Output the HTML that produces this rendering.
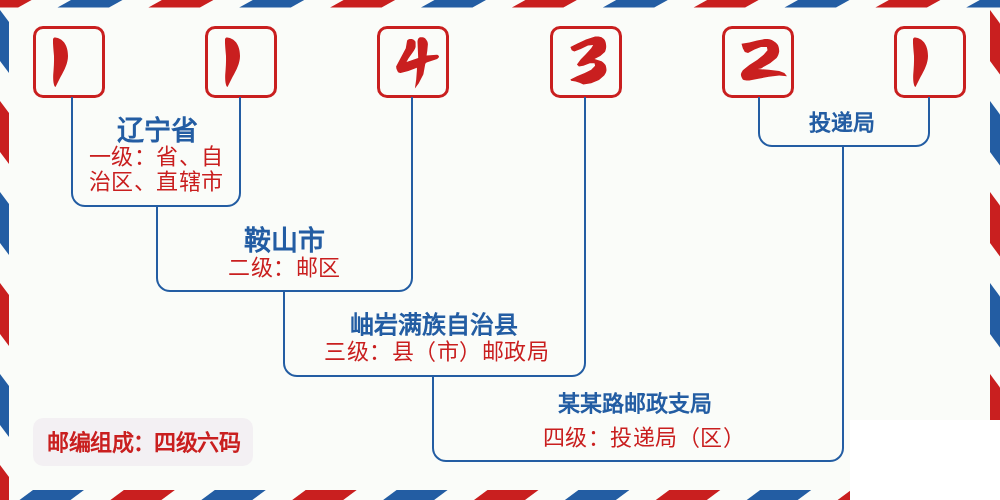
<!DOCTYPE html>
<html lang="zh-CN"><head><meta charset="utf-8"><style>
html,body{margin:0;padding:0;}
body{width:1000px;height:500px;position:relative;overflow:hidden;background:#fafcf9;font-family:"Liberation Sans",sans-serif;}
svg{position:absolute;left:0;top:0;}
.t{position:absolute;text-align:center;white-space:nowrap;will-change:transform;}
.ti{color:#235da3;font-family:"Liberation Serif",serif;font-weight:bold;}
.rd{color:#c91f1f;font-family:"Liberation Sans",sans-serif;letter-spacing:0.5px;}
</style></head><body>
<svg width="1000" height="500" viewBox="0 0 1000 500">
<polygon fill="#235da3" points="-124.2,7.6 -72.8,7.6 -59.2,0.0 -110.8,0.0"/>
<polygon fill="#c91f1f" points="-33.4,7.6 18.1,7.6 31.6,0.0 -19.9,0.0"/>
<polygon fill="#235da3" points="57.5,7.6 109.0,7.6 122.5,0.0 71.0,0.0"/>
<polygon fill="#c91f1f" points="148.4,7.6 199.9,7.6 213.4,0.0 161.9,0.0"/>
<polygon fill="#235da3" points="239.2,7.6 290.8,7.6 304.2,0.0 252.8,0.0"/>
<polygon fill="#c91f1f" points="330.1,7.6 381.6,7.6 395.1,0.0 343.6,0.0"/>
<polygon fill="#235da3" points="421.0,7.6 472.5,7.6 486.0,0.0 434.5,0.0"/>
<polygon fill="#c91f1f" points="511.9,7.6 563.4,7.6 576.9,0.0 525.4,0.0"/>
<polygon fill="#235da3" points="602.8,7.6 654.2,7.6 667.8,0.0 616.2,0.0"/>
<polygon fill="#c91f1f" points="693.6,7.6 745.1,7.6 758.6,0.0 707.1,0.0"/>
<polygon fill="#235da3" points="784.5,7.6 836.0,7.6 849.5,0.0 798.0,0.0"/>
<polygon fill="#c91f1f" points="875.4,7.6 926.9,7.6 940.4,0.0 888.9,0.0"/>
<polygon fill="#235da3" points="966.2,7.6 1017.8,7.6 1031.2,0.0 979.8,0.0"/>
<polygon fill="#c91f1f" points="0.0,-81.0 9.0,-69.0 9.0,-18.0 0.0,-30.0"/>
<polygon fill="#235da3" points="0.0,10.0 9.0,22.0 9.0,73.0 0.0,61.0"/>
<polygon fill="#c91f1f" points="0.0,101.0 9.0,113.0 9.0,164.0 0.0,152.0"/>
<polygon fill="#235da3" points="0.0,192.0 9.0,204.0 9.0,255.0 0.0,243.0"/>
<polygon fill="#c91f1f" points="0.0,283.0 9.0,295.0 9.0,346.0 0.0,334.0"/>
<polygon fill="#235da3" points="0.0,374.0 9.0,386.0 9.0,437.0 0.0,425.0"/>
<polygon fill="#c91f1f" points="0.0,465.0 9.0,477.0 9.0,528.0 0.0,516.0"/>
<polygon fill="#235da3" points="0.0,556.0 9.0,568.0 9.0,619.0 0.0,607.0"/>
<polygon fill="#235da3" points="990.0,-81.0 1000.0,-67.5 1000.0,-16.5 990.0,-30.0"/>
<polygon fill="#c91f1f" points="990.0,10.0 1000.0,23.5 1000.0,74.5 990.0,61.0"/>
<polygon fill="#235da3" points="990.0,101.0 1000.0,114.5 1000.0,165.5 990.0,152.0"/>
<polygon fill="#c91f1f" points="990.0,192.0 1000.0,205.5 1000.0,256.5 990.0,243.0"/>
<polygon fill="#235da3" points="990.0,283.0 1000.0,296.5 1000.0,347.5 990.0,334.0"/>
<polygon fill="#c91f1f" points="990.0,374.0 1000.0,387.5 1000.0,438.5 990.0,425.0"/>
<polygon fill="#235da3" points="990.0,465.0 1000.0,478.5 1000.0,529.5 990.0,516.0"/>
<polygon fill="#c91f1f" points="990.0,556.0 1000.0,569.5 1000.0,620.5 990.0,607.0"/>
<polygon fill="#c91f1f" points="-57.9,490.0 -6.9,490.0 -23.9,502.6 -74.9,502.6"/>
<polygon fill="#235da3" points="33.0,490.0 84.0,490.0 67.0,502.6 16.0,502.6"/>
<polygon fill="#c91f1f" points="123.9,490.0 174.9,490.0 157.9,502.6 106.9,502.6"/>
<polygon fill="#235da3" points="214.8,490.0 265.8,490.0 248.8,502.6 197.8,502.6"/>
<polygon fill="#c91f1f" points="305.7,490.0 356.7,490.0 339.7,502.6 288.7,502.6"/>
<polygon fill="#235da3" points="396.6,490.0 447.6,490.0 430.6,502.6 379.6,502.6"/>
<polygon fill="#c91f1f" points="487.5,490.0 538.5,490.0 521.5,502.6 470.5,502.6"/>
<polygon fill="#235da3" points="578.4,490.0 629.4,490.0 612.4,502.6 561.4,502.6"/>
<polygon fill="#c91f1f" points="669.3,490.0 720.3,490.0 703.3,502.6 652.3,502.6"/>
<polygon fill="#235da3" points="760.2,490.0 811.2,490.0 794.2,502.6 743.2,502.6"/>
<polygon fill="#c91f1f" points="851.1,490.0 902.1,490.0 885.1,502.6 834.1,502.6"/>
<polygon fill="#235da3" points="942.0,490.0 993.0,490.0 976.0,502.6 925.0,502.6"/>
<polygon fill="#c91f1f" points="1032.9,490.0 1083.9,490.0 1066.9,502.6 1015.9,502.6"/>
<rect x="850" y="420" width="150" height="80" fill="#ffffff"/>
<rect x="34.5" y="27.5" width="69" height="69" rx="8.5" ry="8.5" fill="none" stroke="#c91f1f" stroke-width="3"/>
<rect x="206.5" y="27.5" width="69" height="69" rx="8.5" ry="8.5" fill="none" stroke="#c91f1f" stroke-width="3"/>
<rect x="378.5" y="27.5" width="69" height="69" rx="8.5" ry="8.5" fill="none" stroke="#c91f1f" stroke-width="3"/>
<rect x="551.5" y="27.5" width="69" height="69" rx="8.5" ry="8.5" fill="none" stroke="#c91f1f" stroke-width="3"/>
<rect x="723.5" y="27.5" width="69" height="69" rx="8.5" ry="8.5" fill="none" stroke="#c91f1f" stroke-width="3"/>
<rect x="895.5" y="27.5" width="69" height="69" rx="8.5" ry="8.5" fill="none" stroke="#c91f1f" stroke-width="3"/>
<path fill="#c91f1f" d="M53,39.5 C53,36.5 57,37 61,39.5 C66,43 68,49 68,56 C68,63 64.5,70 60.5,77 L55.5,87 C53.5,86 53,80 53.2,75 C53.8,68 54.2,62 54,56 C53.5,50 52.8,44 53,39.5 Z"/>
<path fill="#c91f1f" d="M53,39.5 C53,36.5 57,37 61,39.5 C66,43 68,49 68,56 C68,63 64.5,70 60.5,77 L55.5,87 C53.5,86 53,80 53.2,75 C53.8,68 54.2,62 54,56 C53.5,50 52.8,44 53,39.5 Z" transform="translate(172,0)"/>
<path fill="#c91f1f" d="M53,39.5 C53,36.5 57,37 61,39.5 C66,43 68,49 68,56 C68,63 64.5,70 60.5,77 L55.5,87 C53.5,86 53,80 53.2,75 C53.8,68 54.2,62 54,56 C53.5,50 52.8,44 53,39.5 Z" transform="translate(860,0)"/>
<path fill="#c91f1f" d="M407.1,40.4 C408.5,39 410.5,38.8 411.7,39.1 C414,39.8 415.6,41 415.6,42.4 L415.6,46.9 C415,49 414,50.5 413,52.1 L408.4,58.6 L406.5,61.9 L418.2,58 L417.5,41.7 C417.5,39.5 418.5,37.6 420.1,37.2 C422.5,37 424.5,37.5 425.3,38.5 C427,40.5 427.9,42 427.9,44.3 L427.3,50.8 L426.6,55.4 L437,54.7 C438,55 439,55.8 439,56.7 C438.5,58 437.5,58.8 436.4,59.3 L426.6,62.5 L425.3,63.8 L423.4,74.2 L418.8,83.3 L414.9,88.5 L416.2,79.4 L416.9,70.3 L416.9,67.7 L408.4,71 L400.6,72.9 C399,73 397.8,72.2 397.4,71 C396.5,69.5 396.1,68 396.1,66.4 L400.6,58 L405.8,48.2 Z"/>
<path fill="#c91f1f" d="M570.4,46.9 L576.9,43.7 L586,39.4 L595.1,36.5 C598,36.3 600,36.5 601.6,37.2 C603.5,38.5 604.7,39.5 605.2,41.1 C606,43 606.2,45 606.2,46.9 C606,49 605.6,50.5 604.9,52.1 L600.3,56 L594.5,58.9 L601.6,61.2 C603.5,62.5 604.8,63.7 605.5,65.1 C606.2,67 606.5,68.5 606.5,70.3 C606.2,72.5 605.4,74 604.2,75.5 L599,80.1 L591.2,83.3 L583.4,84.6 L579.5,82.7 L575.6,81.4 L571.1,80.7 L570.4,79.4 L576.9,76.2 L584.7,72.9 L591.2,69.7 L595.1,65.8 L594.5,63.2 L589.9,63.2 L583.4,65.8 L578.9,66.4 L576.9,64.5 L580.8,59.3 L586,54.1 L591.2,48.2 L593.2,45 L588,45.6 L580.8,48.9 L574.3,51.5 L571.7,50.2 Z"/>
<path fill="#c91f1f" d="M741.5,43.7 L749.3,42.4 L757.1,40.4 L764.9,39.1 C768,39 770.5,39.5 772.7,40.4 C775.5,42 777,43.5 777.9,45 C778.8,47 779.2,49 779.2,51.5 C778.8,54 778,56 776.6,58 L770.1,63.2 L761,68.4 L757.8,69 L768.8,69.7 L779.2,71 L784.4,72.9 L787,76.2 L779.2,75.5 L768.8,76.8 L758.4,78.8 L749.3,80.4 C746.5,80.5 744,80.2 742.8,79.4 C741.5,77.5 740.9,76 740.9,74.2 C741.5,72.5 742,71.5 742.8,70.3 L749.3,65.1 L757.1,59.9 L763.6,54.7 L767.5,50.2 L766.9,46.9 L761,46.9 L754.5,49.5 L748,53.1 L744.8,52.1 L742.8,48.2 Z"/>
<path fill="none" stroke="#235da3" stroke-width="2" d="M72.0,97.0 L72.0,193.0 A13,13 0 0 0 85.0,206.0 L227.0,206.0 A13,13 0 0 0 240.0,193.0 L240.0,97.0"/>
<path fill="none" stroke="#235da3" stroke-width="2" d="M157.0,206.0 L157.0,278.0 A13,13 0 0 0 170.0,291.0 L399.0,291.0 A13,13 0 0 0 412.0,278.0 L412.0,97.0"/>
<path fill="none" stroke="#235da3" stroke-width="2" d="M284.0,291.0 L284.0,363.0 A13,13 0 0 0 297.0,376.0 L572.0,376.0 A13,13 0 0 0 585.0,363.0 L585.0,97.0"/>
<path fill="none" stroke="#235da3" stroke-width="2" d="M433.0,376.0 L433.0,448.0 A13,13 0 0 0 446.0,461.0 L830.0,461.0 A13,13 0 0 0 843.0,448.0 L843.0,146.0"/>
<path fill="none" stroke="#235da3" stroke-width="2" d="M759.0,97.0 L759.0,133.0 A13,13 0 0 0 772.0,146.0 L916.0,146.0 A13,13 0 0 0 929.0,133.0 L929.0,97.0"/>

<rect x="33" y="418" width="220" height="48" rx="10" ry="10" fill="#f3f0f3"/>
</svg>
<div class="t ti" style="left:74.30px;width:166px;top:115.00px;font-size:27.0px;line-height:32px;">辽宁省</div>
<div class="t rd" style="left:73.00px;width:166px;top:144.00px;font-size:22.0px;line-height:25px;">一级：省、自<br>治区、直辖市</div>
<div class="t ti" style="left:158.20px;width:253px;top:225.00px;font-size:27.0px;line-height:32px;">鞍山市</div>
<div class="t rd" style="left:158.00px;width:253px;top:255.25px;font-size:22.0px;line-height:25px;">二级：邮区</div>
<div class="t ti" style="left:283.70px;width:299px;top:310.75px;font-size:24.0px;line-height:28px;">岫岩满族自治县</div>
<div class="t rd" style="left:286.50px;width:299px;top:339.35px;font-size:22.0px;line-height:25px;">三级：县（市）邮政局</div>
<div class="t ti" style="left:430.80px;width:408px;top:391.40px;font-size:22.0px;line-height:26px;">某某路邮政支局</div>
<div class="t rd" style="left:440.00px;width:408px;top:425.00px;font-size:22.0px;line-height:25px;">四级：投递局（区）</div>
<div class="t ti" style="left:757.35px;width:169px;top:109.60px;font-size:22.0px;line-height:26px;">投递局</div>
<div class="t ti" style="left:34.00px;width:220px;top:430.00px;font-size:22.0px;line-height:26px;color:#c91f1f;letter-spacing:-0.55px;text-indent:-0.55px">邮编组成：四级六码</div>
</body></html>
